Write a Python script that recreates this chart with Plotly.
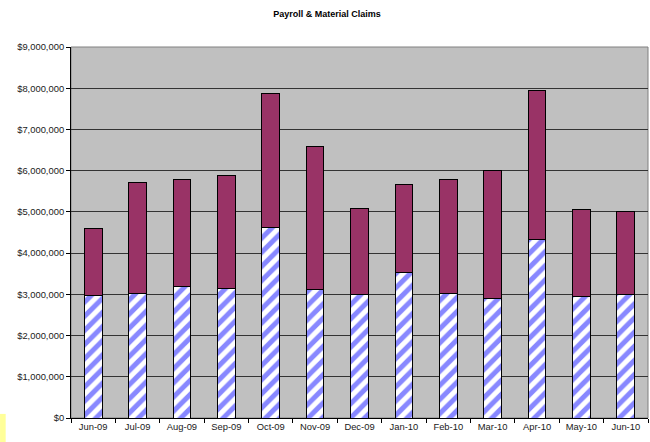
import plotly.graph_objects as go

months = ["Jun-09", "Jul-09", "Aug-09", "Sep-09", "Oct-09", "Nov-09", "Dec-09",
          "Jan-10", "Feb-10", "Mar-10", "Apr-10", "May-10", "Jun-10"]
payroll = [2960000, 3020000, 3190000, 3150000, 4610000, 3110000, 2990000,
           3520000, 3030000, 2890000, 4320000, 2940000, 2990000]
totals = [4590000, 5720000, 5790000, 5890000, 7880000, 6590000, 5090000,
          5660000, 5780000, 6000000, 7950000, 5060000, 5020000]
material = [t - p for t, p in zip(totals, payroll)]
y_ticks = [0, 1000000, 2000000, 3000000, 4000000, 5000000, 6000000, 7000000, 8000000, 9000000]
y_tick_labels = ["$0", "$1,000,000", "$2,000,000", "$3,000,000", "$4,000,000", "$5,000,000",
                 "$6,000,000", "$7,000,000", "$8,000,000", "$9,000,000"]

fig = go.Figure()
fig.add_trace(go.Bar(
    x=months, y=payroll, name="Payroll",
    marker=dict(color="#FFFFFF", line=dict(color="#000000", width=1),
                pattern=dict(shape="/", fgcolor="#8888FF", bgcolor="#FFFFFF",
                             size=10, solidity=0.5, fillmode="overlay", fgopacity=1)),
))
fig.add_trace(go.Bar(
    x=months, y=material, name="Material",
    marker=dict(color="#993366", line=dict(color="#000000", width=1)),
))

fig.update_layout(
    barmode="stack",
    bargap=0.6,
    width=650, height=442,
    margin=dict(l=71, r=2, t=47, b=24),
    paper_bgcolor="#FFFFFF",
    plot_bgcolor="#C0C0C0",
    showlegend=False,
    font=dict(family="Liberation Sans, Arial, sans-serif", size=9.4, color="#1a1a1a"),
    title=dict(text="<b>Payroll & Material Claims</b>", x=0.503, xanchor="center",
               y=0.968, yanchor="middle", font=dict(size=9, color="#000000")),
    shapes=[
        dict(type="rect", xref="paper", yref="paper", x0=0, x1=1, y0=0, y1=1,
             line=dict(color="#808080", width=1), layer="below"),
        dict(type="rect", xref="paper", yref="paper", x0=-0.123, x1=-0.1132,
             y0=-0.066, y1=0.011, fillcolor="#FFFF99", line=dict(width=0), layer="above"),
    ],
)
fig.update_xaxes(
    type="category", tickson="boundaries", ticks="outside", ticklen=4,
    tickcolor="#000000", showline=True, linecolor="#000000", linewidth=1,
    showgrid=False, mirror=False,
)
fig.update_yaxes(
    range=[0, 9000000], tickvals=y_ticks, ticktext=y_tick_labels,
    ticks="outside", ticklen=4, tickcolor="#000000",
    showline=True, linecolor="#000000", linewidth=1,
    showgrid=True, gridcolor="#333333", gridwidth=1, zeroline=False,
)
fig.write_html("out.html", config={"displayModeBar": False},
               post_script="document.body.style.margin='0';document.body.style.padding='0';")
